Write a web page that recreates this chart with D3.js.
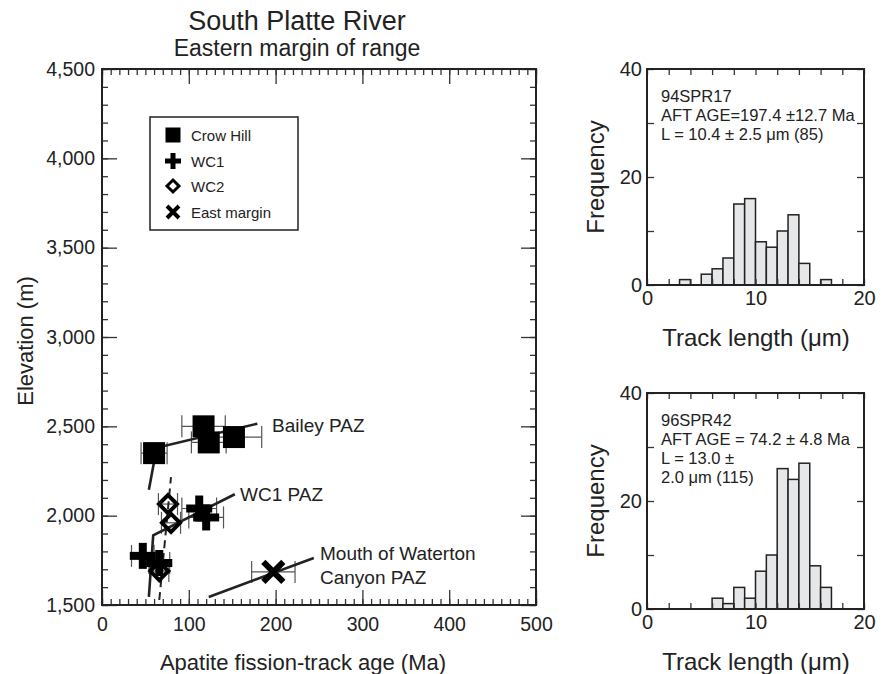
<!DOCTYPE html>
<html>
<head>
<meta charset="utf-8">
<script src="https://cdn.jsdelivr.net/npm/d3@7"></script>
<style>
  body { margin: 0; background: #fff; }
  svg text { font-family: "Liberation Sans", Arial, sans-serif; fill: #222; }
</style>
</head>
<body>
<div id="chart"></div>
<script>
// sample ages (Ma), elevations (m) and error (Ma)
var crowHill = [
  {age: 60, elev: 2350, err: 15},
  {age: 117, elev: 2500, err: 25},
  {age: 123, elev: 2410, err: 20},
  {age: 152, elev: 2440, err: 32}
];
var wc1 = [
  {age: 47, elev: 1775, err: 13},
  {age: 66, elev: 1735, err: 12},
  {age: 112, elev: 2040, err: 20},
  {age: 120, elev: 1990, err: 20}
];
var wc2 = [
  {age: 76, elev: 2065, err: 11},
  {age: 79.5, elev: 1960, err: 11},
  {age: 66, elev: 1690, err: 11}
];
var eastMargin = [
  {age: 197.4, elev: 1685, err: 25}
];

// partial annealing zone lines
var baileyPAZ = [[54, 2145], [63, 2380], [179, 2515]];
var wc1PAZ = [[54, 1545], [59, 1890], [153, 2120]];
var wc2PAZ = [[66, 1528], [79.5, 2216]];
var watertonPAZ = [[123, 1545], [244, 1763]];

var elevTicks = [1500, 2000, 2500, 3000, 3500, 4000, 4500];
var ageTicks = [0, 100, 200, 300, 400, 500];
var legendNames = ["Crow Hill", "WC1", "WC2", "East margin"];

// track length histograms, 1 um bins starting at 0
var hist1 = [0,0,0,1,0,2,3,5,15,16,8,7,10,13,4,0,1,0,0,0];
var hist2 = [0,0,0,0,0,0,2,1,4,2,7,10,26,24,27,8,4,0,0,0];
var hist1Text = ["94SPR17", "AFT AGE=197.4 \u00b112.7 Ma", "L = 10.4 \u00b1 2.5 \u03bcm (85)"];
var hist2Text = ["96SPR42", "AFT AGE = 74.2 \u00b1 4.8 Ma", "L = 13.0 \u00b1", "2.0 \u03bcm (115)"];
var freqTicks = [0, 20, 40];
var lenTicks = [0, 10, 20];

var svg = d3.select("#chart").append("svg")
  .attr("width", 886)
  .attr("height", 674);

// ---------- main plot ----------
var x = d3.scaleLinear().domain([0, 500]).range([102, 536]);
var y = d3.scaleLinear().domain([1500, 4500]).range([605, 69]);

var main = svg.append("g");

main.append("g").attr("transform", "translate(0,605)")
  .call(d3.axisBottom(x).tickValues(d3.range(0, 501, 10)).tickSize(-6).tickFormat(""));
main.append("g").attr("transform", "translate(0,605)")
  .call(d3.axisBottom(x).tickValues(ageTicks).tickSize(-15).tickPadding(12).tickFormat(d3.format("d")));
main.append("g").attr("transform", "translate(0,69)")
  .call(d3.axisTop(x).tickValues(d3.range(0, 501, 10)).tickSize(-6).tickFormat(""));
main.append("g").attr("transform", "translate(0,69)")
  .call(d3.axisTop(x).tickValues(ageTicks).tickSize(-15).tickFormat(""));
main.append("g").attr("transform", "translate(102,0)")
  .call(d3.axisLeft(y).tickValues(d3.range(1500, 4501, 100)).tickSize(-6).tickFormat(""));
main.append("g").attr("transform", "translate(102,0)")
  .call(d3.axisLeft(y).tickValues(elevTicks).tickSize(-15).tickPadding(7).tickFormat(d3.format(",")));
main.append("g").attr("transform", "translate(536,0)")
  .call(d3.axisRight(y).tickValues(d3.range(1500, 4501, 100)).tickSize(-6).tickFormat(""));
main.append("g").attr("transform", "translate(536,0)")
  .call(d3.axisRight(y).tickValues(elevTicks).tickSize(-15).tickFormat(""));

main.selectAll(".domain").remove();
main.selectAll(".tick line").attr("stroke", "#333").attr("stroke-width", 1.3);
main.selectAll(".tick text").attr("font-size", 19.5).attr("fill", "#222");

main.append("rect")
  .attr("x", 102).attr("y", 69).attr("width", 434).attr("height", 536)
  .attr("fill", "none").attr("stroke", "#222").attr("stroke-width", 2);

// titles
svg.append("text").attr("x", 297).attr("y", 30).attr("text-anchor", "middle")
  .attr("font-size", 27).text("South Platte River");
svg.append("text").attr("x", 297).attr("y", 56).attr("text-anchor", "middle")
  .attr("font-size", 23).text("Eastern margin of range");
svg.append("text").attr("x", 303).attr("y", 670).attr("text-anchor", "middle")
  .attr("font-size", 22).text("Apatite fission-track age (Ma)");
svg.append("text").attr("transform", "translate(33,341) rotate(-90)").attr("text-anchor", "middle")
  .attr("font-size", 22).text("Elevation (m)");

// error bars
var allPts = crowHill.concat(wc1, wc2, eastMargin);
var eb = main.append("g").attr("stroke", "#555").attr("stroke-width", 1.2);
allPts.forEach(function(d) {
  var cy = y(d.elev);
  eb.append("line").attr("x1", x(d.age - d.err)).attr("x2", x(d.age + d.err)).attr("y1", cy).attr("y2", cy);
  eb.append("line").attr("x1", x(d.age - d.err)).attr("x2", x(d.age - d.err)).attr("y1", cy - 11).attr("y2", cy + 11);
  eb.append("line").attr("x1", x(d.age + d.err)).attr("x2", x(d.age + d.err)).attr("y1", cy - 11).attr("y2", cy + 11);
});

// PAZ lines
var line = d3.line().x(function(d) { return x(d[0]); }).y(function(d) { return y(d[1]); });
main.append("path").attr("d", line(baileyPAZ)).attr("fill", "none").attr("stroke", "#222").attr("stroke-width", 2.6);
main.append("path").attr("d", line(wc1PAZ)).attr("fill", "none").attr("stroke", "#222").attr("stroke-width", 2.6);
main.append("path").attr("d", line(watertonPAZ)).attr("fill", "none").attr("stroke", "#222").attr("stroke-width", 2.6);
main.append("path").attr("d", line(wc2PAZ)).attr("fill", "none").attr("stroke", "#222").attr("stroke-width", 2)
  .attr("stroke-dasharray", "8,5");

// symbols
function drawSquare(g, cx, cy, s) {
  g.append("rect").attr("x", cx - s / 2).attr("y", cy - s / 2).attr("width", s).attr("height", s).attr("fill", "#000");
}
function drawPlus(g, cx, cy, s, w) {
  g.append("rect").attr("x", cx - s / 2).attr("y", cy - w / 2).attr("width", s).attr("height", w).attr("fill", "#000");
  g.append("rect").attr("x", cx - w / 2).attr("y", cy - s / 2).attr("width", w).attr("height", s).attr("fill", "#000");
}
function drawDiamond(g, cx, cy, r, w) {
  g.append("path").attr("d", "M" + cx + "," + (cy - r) + "L" + (cx + r) + "," + cy + "L" + cx + "," + (cy + r) + "L" + (cx - r) + "," + cy + "Z")
    .attr("fill", "none").attr("stroke", "#000").attr("stroke-width", w);
}
function drawX(g, cx, cy, r, w) {
  g.append("path").attr("d", "M" + (cx - r) + "," + (cy - r) + "L" + (cx + r) + "," + (cy + r) + "M" + (cx + r) + "," + (cy - r) + "L" + (cx - r) + "," + (cy + r))
    .attr("stroke", "#000").attr("stroke-width", w);
}

var sym = main.append("g");
crowHill.forEach(function(d) { drawSquare(sym, x(d.age), y(d.elev), 22); });
wc1.forEach(function(d) { drawPlus(sym, x(d.age), y(d.elev), 26, 8); });
wc2.forEach(function(d) { drawDiamond(sym, x(d.age), y(d.elev), 9, 4); });
eastMargin.forEach(function(d) { drawX(sym, x(d.age), y(d.elev), 10, 6); });

// line labels
main.append("text").attr("x", 272).attr("y", 432).attr("font-size", 19).text("Bailey PAZ");
main.append("text").attr("x", 240).attr("y", 501).attr("font-size", 19).text("WC1 PAZ");
main.append("text").attr("x", 320).attr("y", 560).attr("font-size", 19).text("Mouth of Waterton");
main.append("text").attr("x", 320).attr("y", 584).attr("font-size", 19).text("Canyon PAZ");

// legend
var leg = svg.append("g");
leg.append("rect").attr("x", 150).attr("y", 117).attr("width", 148).attr("height", 113)
  .attr("fill", "#fff").attr("stroke", "#222").attr("stroke-width", 1.5);
drawSquare(leg, 173, 135, 15);
drawPlus(leg, 173, 161, 16, 5);
drawDiamond(leg, 173, 186, 6, 3);
drawX(leg, 173, 212, 6, 4);
legendNames.forEach(function(t, i) {
  leg.append("text").attr("x", 191).attr("y", [135, 161, 186, 212][i] + 5.5).attr("font-size", 15).text(t);
});

// ---------- histograms ----------
function histogram(top, counts, lines) {
  var hx = d3.scaleLinear().domain([0, 20]).range([647, 864]);
  var hy = d3.scaleLinear().domain([0, 40]).range([top + 216, top]);
  var g = svg.append("g");

  var bins = counts.map(function(c, i) { return {x0: i, x1: i + 1, n: c}; }).filter(function(b) { return b.n > 0; });
  g.selectAll("rect.bar").data(bins).enter().append("rect")
    .attr("class", "bar")
    .attr("x", function(b) { return hx(b.x0); })
    .attr("width", function(b) { return hx(b.x1) - hx(b.x0); })
    .attr("y", function(b) { return hy(b.n); })
    .attr("height", function(b) { return hy(0) - hy(b.n); })
    .attr("fill", "#e6e7e8").attr("stroke", "#222").attr("stroke-width", 1.5);

  g.append("g").attr("transform", "translate(0," + hy(0) + ")")
    .call(d3.axisBottom(hx).tickValues(d3.range(0, 21, 2)).tickSize(-6).tickFormat(""));
  g.append("g").attr("transform", "translate(0," + hy(0) + ")")
    .call(d3.axisBottom(hx).tickValues(lenTicks).tickSize(0).tickPadding(6).tickFormat(d3.format("d")));
  g.append("g").attr("transform", "translate(0," + top + ")")
    .call(d3.axisTop(hx).tickValues(d3.range(0, 21, 2)).tickSize(-6).tickFormat(""));
  g.append("g").attr("transform", "translate(647,0)")
    .call(d3.axisLeft(hy).tickValues(d3.range(0, 41, 10)).tickSize(-7).tickFormat(""));
  g.append("g").attr("transform", "translate(647,0)")
    .call(d3.axisLeft(hy).tickValues(freqTicks).tickSize(0).tickPadding(5).tickFormat(d3.format("d")));
  g.append("g").attr("transform", "translate(864,0)")
    .call(d3.axisRight(hy).tickValues(d3.range(0, 41, 10)).tickSize(-7).tickFormat(""));

  g.selectAll(".domain").remove();
  g.selectAll(".tick line").attr("stroke", "#333").attr("stroke-width", 1.3);
  g.selectAll(".tick text").attr("font-size", 20).attr("fill", "#222");

  g.append("rect").attr("x", 647).attr("y", top).attr("width", 217).attr("height", 216)
    .attr("fill", "none").attr("stroke", "#222").attr("stroke-width", 2);

  lines.forEach(function(t, i) {
    g.append("text").attr("x", 661).attr("y", top + 33 + i * 19).attr("font-size", 16.5).text(t);
  });

  g.append("text").attr("transform", "translate(604," + (top + 108) + ") rotate(-90)")
    .attr("text-anchor", "middle").attr("font-size", 24).text("Frequency");
  g.append("text").attr("x", 756).attr("y", top + 277).attr("text-anchor", "middle")
    .attr("font-size", 24).text("Track length (\u03bcm)");
}

histogram(69, hist1, hist1Text);
histogram(393, hist2, hist2Text);
</script>
</body>
</html>
